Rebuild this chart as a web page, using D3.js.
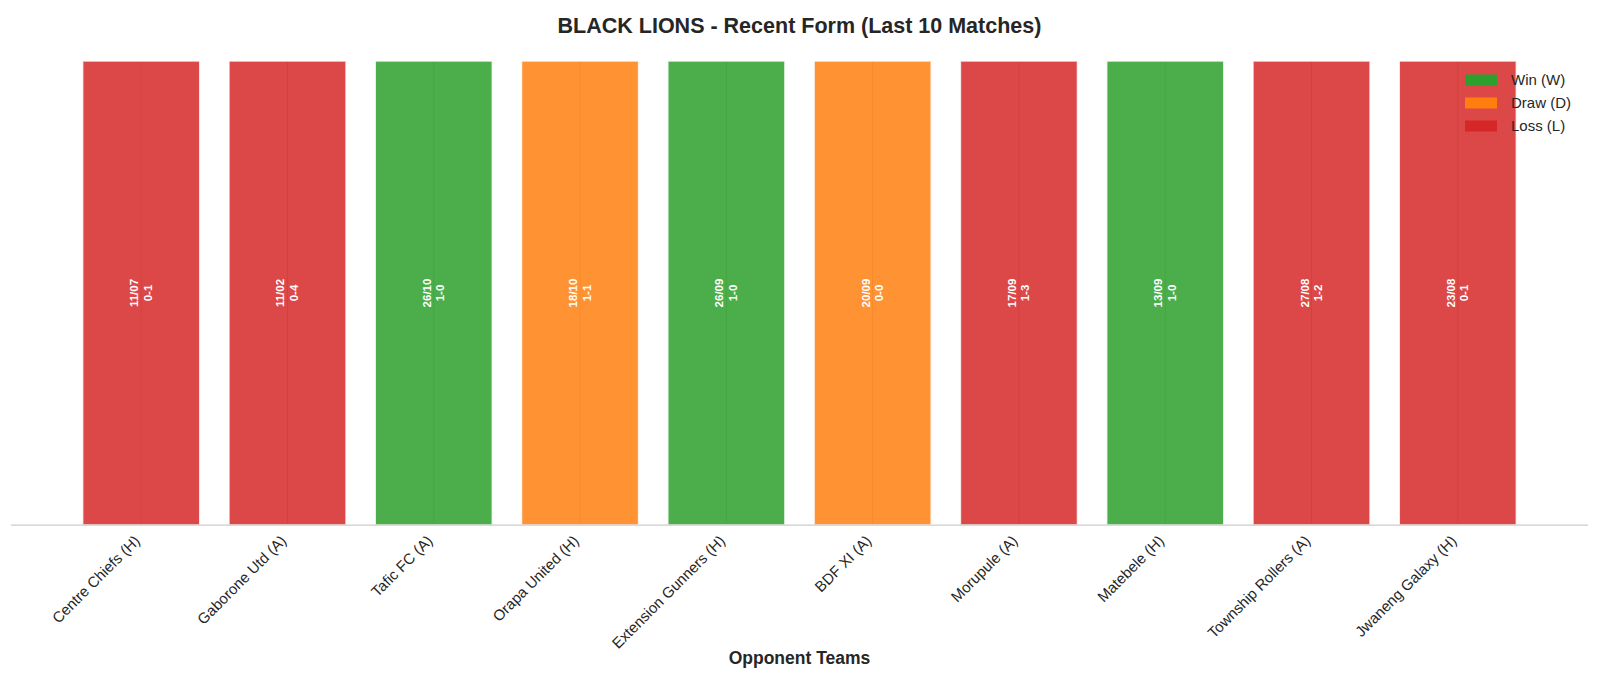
<!DOCTYPE html>
<html>
<head>
<meta charset="utf-8">
<script src="https://cdn.jsdelivr.net/npm/d3@7"></script>
<style>
  html, body { margin: 0; padding: 0; background: #fff; }
  svg { display: block; font-family: "Liberation Sans", Arial, sans-serif; }
</style>
</head>
<body>
<div id="chart"></div>
<script>
// last 10 matches, most recent first
var opponents = ["Centre Chiefs (H)", "Gaborone Utd (A)", "Tafic FC (A)", "Orapa United (H)",
  "Extension Gunners (H)", "BDF XI (A)", "Morupule (A)", "Matebele (H)",
  "Township Rollers (A)", "Jwaneng Galaxy (H)"];
var dates = ["11/07", "11/02", "26/10", "18/10", "26/09", "20/09", "17/09", "13/09", "27/08", "23/08"];
var scores = ["0-1", "0-4", "1-0", "1-1", "1-0", "0-0", "1-3", "1-0", "1-2", "0-1"];
var results = ["L", "L", "W", "D", "W", "D", "L", "W", "L", "L"];
var heights = [1, 1, 1, 1, 1, 1, 1, 1, 1, 1];

var legendKeys = ["W", "D", "L"];
var legendLabels = ["Win (W)", "Draw (D)", "Loss (L)"];
var colors = { W: "#2ca02c", D: "#ff7f0e", L: "#d62728" };

var width = 1600, height = 679;
// plot area edges (window.top is reserved, so prefixed names)
var axLeft = 11, axRight = 1588, axTop = 61, axBottom = 525;

var svg = d3.select("#chart").append("svg")
  .attr("width", width)
  .attr("height", height);

var x = d3.scaleBand()
  .domain(d3.range(opponents.length))
  .range([axLeft, axRight])
  .paddingInner(0.2)
  .paddingOuter(0.49);

var y = d3.scaleLinear()
  .domain([0, 1])
  .range([axBottom, axTop]);

// vertical grid at each category
svg.append("g")
  .selectAll("line")
  .data(opponents)
  .enter().append("line")
  .attr("x1", function(d, i) { return x(i) + x.bandwidth() / 2; })
  .attr("x2", function(d, i) { return x(i) + x.bandwidth() / 2; })
  .attr("y1", y(0))
  .attr("y2", y(1))
  .style("stroke", "#c8c8c8")
  .style("stroke-width", 1);

// bars
svg.append("g")
  .selectAll("rect")
  .data(heights)
  .enter().append("rect")
  .attr("x", function(d, i) { return x(i); })
  .attr("y", function(d) { return y(d); })
  .attr("width", x.bandwidth())
  .attr("height", function(d) { return y(0) - y(d); })
  .style("fill", function(d, i) { return colors[results[i]]; })
  .style("fill-opacity", 0.85)
  .style("stroke", "#ffffff")
  .style("stroke-opacity", 0.8)
  .style("stroke-width", 1.5);

// date + score inside bars
var labels = svg.append("g")
  .selectAll("text")
  .data(heights)
  .enter().append("text")
  .attr("transform", function(d, i) {
    return "translate(" + (x(i) + x.bandwidth() / 2) + "," + y(d / 2) + ") rotate(-90)";
  })
  .attr("text-anchor", "middle")
  .style("fill", "#ffffff")
  .style("font-weight", "bold")
  .style("font-size", "11.5px");

labels.append("tspan")
  .attr("x", 0)
  .attr("y", -3)
  .text(function(d, i) { return dates[i]; });

labels.append("tspan")
  .attr("x", 0)
  .attr("y", 10.5)
  .text(function(d, i) { return scores[i]; });

// x axis
var xAxis = svg.append("g")
  .attr("transform", "translate(0," + axBottom + ")")
  .call(d3.axisBottom(x).tickSize(0).tickFormat(function(i) { return opponents[i]; }));

xAxis.select(".domain")
  .attr("d", "M" + axLeft + ",0H" + axRight)
  .style("stroke", "#cccccc")
  .style("stroke-width", 1.25);

xAxis.selectAll("text")
  .attr("y", 0)
  .attr("dy", "0.35em")
  .attr("transform", "translate(-4,13) rotate(-45)")
  .attr("text-anchor", "end")
  .style("font-family", "'Liberation Sans', Arial, sans-serif")
  .style("font-size", "15px")
  .style("fill", "#262626");

// title and axis label
svg.append("text")
  .attr("x", (axLeft + axRight) / 2)
  .attr("y", 33)
  .attr("text-anchor", "middle")
  .style("font-size", "21.5px")
  .style("font-weight", "bold")
  .style("fill", "#262626")
  .text("BLACK LIONS - Recent Form (Last 10 Matches)");

svg.append("text")
  .attr("x", (axLeft + axRight) / 2)
  .attr("y", 664)
  .attr("text-anchor", "middle")
  .style("font-size", "17.5px")
  .style("font-weight", "bold")
  .style("fill", "#262626")
  .text("Opponent Teams");

// legend
var legend = svg.append("g")
  .attr("transform", "translate(1465,80)");

var item = legend.selectAll("g")
  .data(legendKeys)
  .enter().append("g")
  .attr("transform", function(d, i) { return "translate(0," + (i * 23) + ")"; });

item.append("rect")
  .attr("x", 0)
  .attr("y", -5.5)
  .attr("width", 32)
  .attr("height", 11)
  .style("fill", function(d) { return colors[d]; });

item.append("text")
  .attr("x", 46)
  .attr("y", 0)
  .attr("dy", "0.35em")
  .style("font-size", "15px")
  .style("fill", "#262626")
  .text(function(d, i) { return legendLabels[i]; });
</script>
</body>
</html>
